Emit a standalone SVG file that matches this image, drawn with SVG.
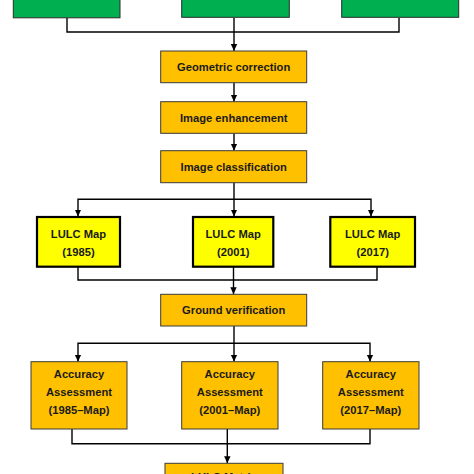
<svg xmlns="http://www.w3.org/2000/svg" width="474" height="474" viewBox="0 0 474 474">
<style>
.bg{fill:#ffffff}
.green{fill:#00B050;stroke:#2b2b2b;stroke-width:1}
.orange{fill:#FFC000;stroke:#3a3a3a;stroke-width:1}
.yellow{fill:#FFFF00;stroke:#000000;stroke-width:2.2}
.t{font-family:"Liberation Sans",Arial,sans-serif;font-weight:bold;font-size:11.2px;fill:#1a1a1a;text-anchor:middle}
.c{fill:none;stroke:#000000;stroke-width:1.4}
</style>
<defs>
<marker id="arr" markerUnits="userSpaceOnUse" markerWidth="8" markerHeight="8" refX="7" refY="4" orient="auto">
<path d="M0,0.8 L7,4 L0,7.2 Z" fill="#000000"/>
</marker>
</defs>
<rect class="bg" x="0" y="0" width="474" height="474"/>
<g id="connectors">
<path class="c" d="M67 18 V32 H399 V18"/>
<path class="c" d="M234 18 V51" marker-end="url(#arr)"/>
<path class="c" d="M234 83 V101.7" marker-end="url(#arr)"/>
<path class="c" d="M234 133.3 V150.7" marker-end="url(#arr)"/>
<path class="c" d="M234 182.7 V216.5" marker-end="url(#arr)"/>
<path class="c" d="M234 199.3 H78 V216.5" marker-end="url(#arr)"/>
<path class="c" d="M234 199.3 H371 V216.5" marker-end="url(#arr)"/>
<path class="c" d="M78 267 V280 H377 V267"/>
<path class="c" d="M233.5 267 V294.3" marker-end="url(#arr)"/>
<path class="c" d="M234 326 V361.7" marker-end="url(#arr)"/>
<path class="c" d="M234 343.3 H78 V361.7" marker-end="url(#arr)"/>
<path class="c" d="M234 343.3 H370 V361.7" marker-end="url(#arr)"/>
<path class="c" d="M72 429 V443.7 H370 V429"/>
<path class="c" d="M227.3 429 V463.3" marker-end="url(#arr)"/>
</g>
<g id="green1"><rect class="green" x="13.3" y="-20" width="106.7" height="37.8"/></g>
<g id="green2"><rect class="green" x="181.7" y="-20" width="107.6" height="37.3"/></g>
<g id="green3"><rect class="green" x="341.7" y="-20" width="117" height="37.3"/></g>
<g id="geometric">
<rect class="orange" x="160.7" y="51" width="146" height="31.7"/>
<text class="t" x="233.7" y="70.8">Geometric correction</text>
</g>
<g id="enhancement">
<rect class="orange" x="160.7" y="101.7" width="146" height="31.6"/>
<text class="t" x="233.7" y="121.5">Image enhancement</text>
</g>
<g id="classification">
<rect class="orange" x="160.7" y="150.7" width="146" height="32"/>
<text class="t" x="233.7" y="170.7">Image classification</text>
</g>
<g id="lulc1985">
<rect class="yellow" x="37" y="217" width="83" height="49.7"/>
<text class="t" x="78.5" y="238.3">LULC Map</text>
<text class="t" x="78.5" y="256.3">(1985)</text>
</g>
<g id="lulc2001">
<rect class="yellow" x="193" y="217" width="80.3" height="49.7"/>
<text class="t" x="233.2" y="238.3">LULC Map</text>
<text class="t" x="233.2" y="256.3">(2001)</text>
</g>
<g id="lulc2017">
<rect class="yellow" x="330.3" y="217" width="84.7" height="49.7"/>
<text class="t" x="372.7" y="238.3">LULC Map</text>
<text class="t" x="372.7" y="256.3">(2017)</text>
</g>
<g id="ground">
<rect class="orange" x="160.7" y="294.3" width="146" height="31.7"/>
<text class="t" x="233.7" y="314.2">Ground verification</text>
</g>
<g id="acc1985">
<rect class="orange" x="31" y="361.7" width="96" height="67.3"/>
<text class="t" x="79" y="378.3">Accuracy</text>
<text class="t" x="79" y="396.3">Assessment</text>
<text class="t" x="79" y="414.3">(1985–Map)</text>
</g>
<g id="acc2001">
<rect class="orange" x="181.7" y="361.7" width="96.3" height="67.3"/>
<text class="t" x="229.8" y="378.3">Accuracy</text>
<text class="t" x="229.8" y="396.3">Assessment</text>
<text class="t" x="229.8" y="414.3">(2001–Map)</text>
</g>
<g id="acc2017">
<rect class="orange" x="322.7" y="361.7" width="96.3" height="67.3"/>
<text class="t" x="370.8" y="378.3">Accuracy</text>
<text class="t" x="370.8" y="396.3">Assessment</text>
<text class="t" x="370.8" y="414.3">(2017–Map)</text>
</g>
<g id="matrix">
<rect class="orange" x="165" y="463.3" width="118" height="30"/>
<text class="t" x="224" y="480.5">LULC Matrix</text>
</g>
</svg>
